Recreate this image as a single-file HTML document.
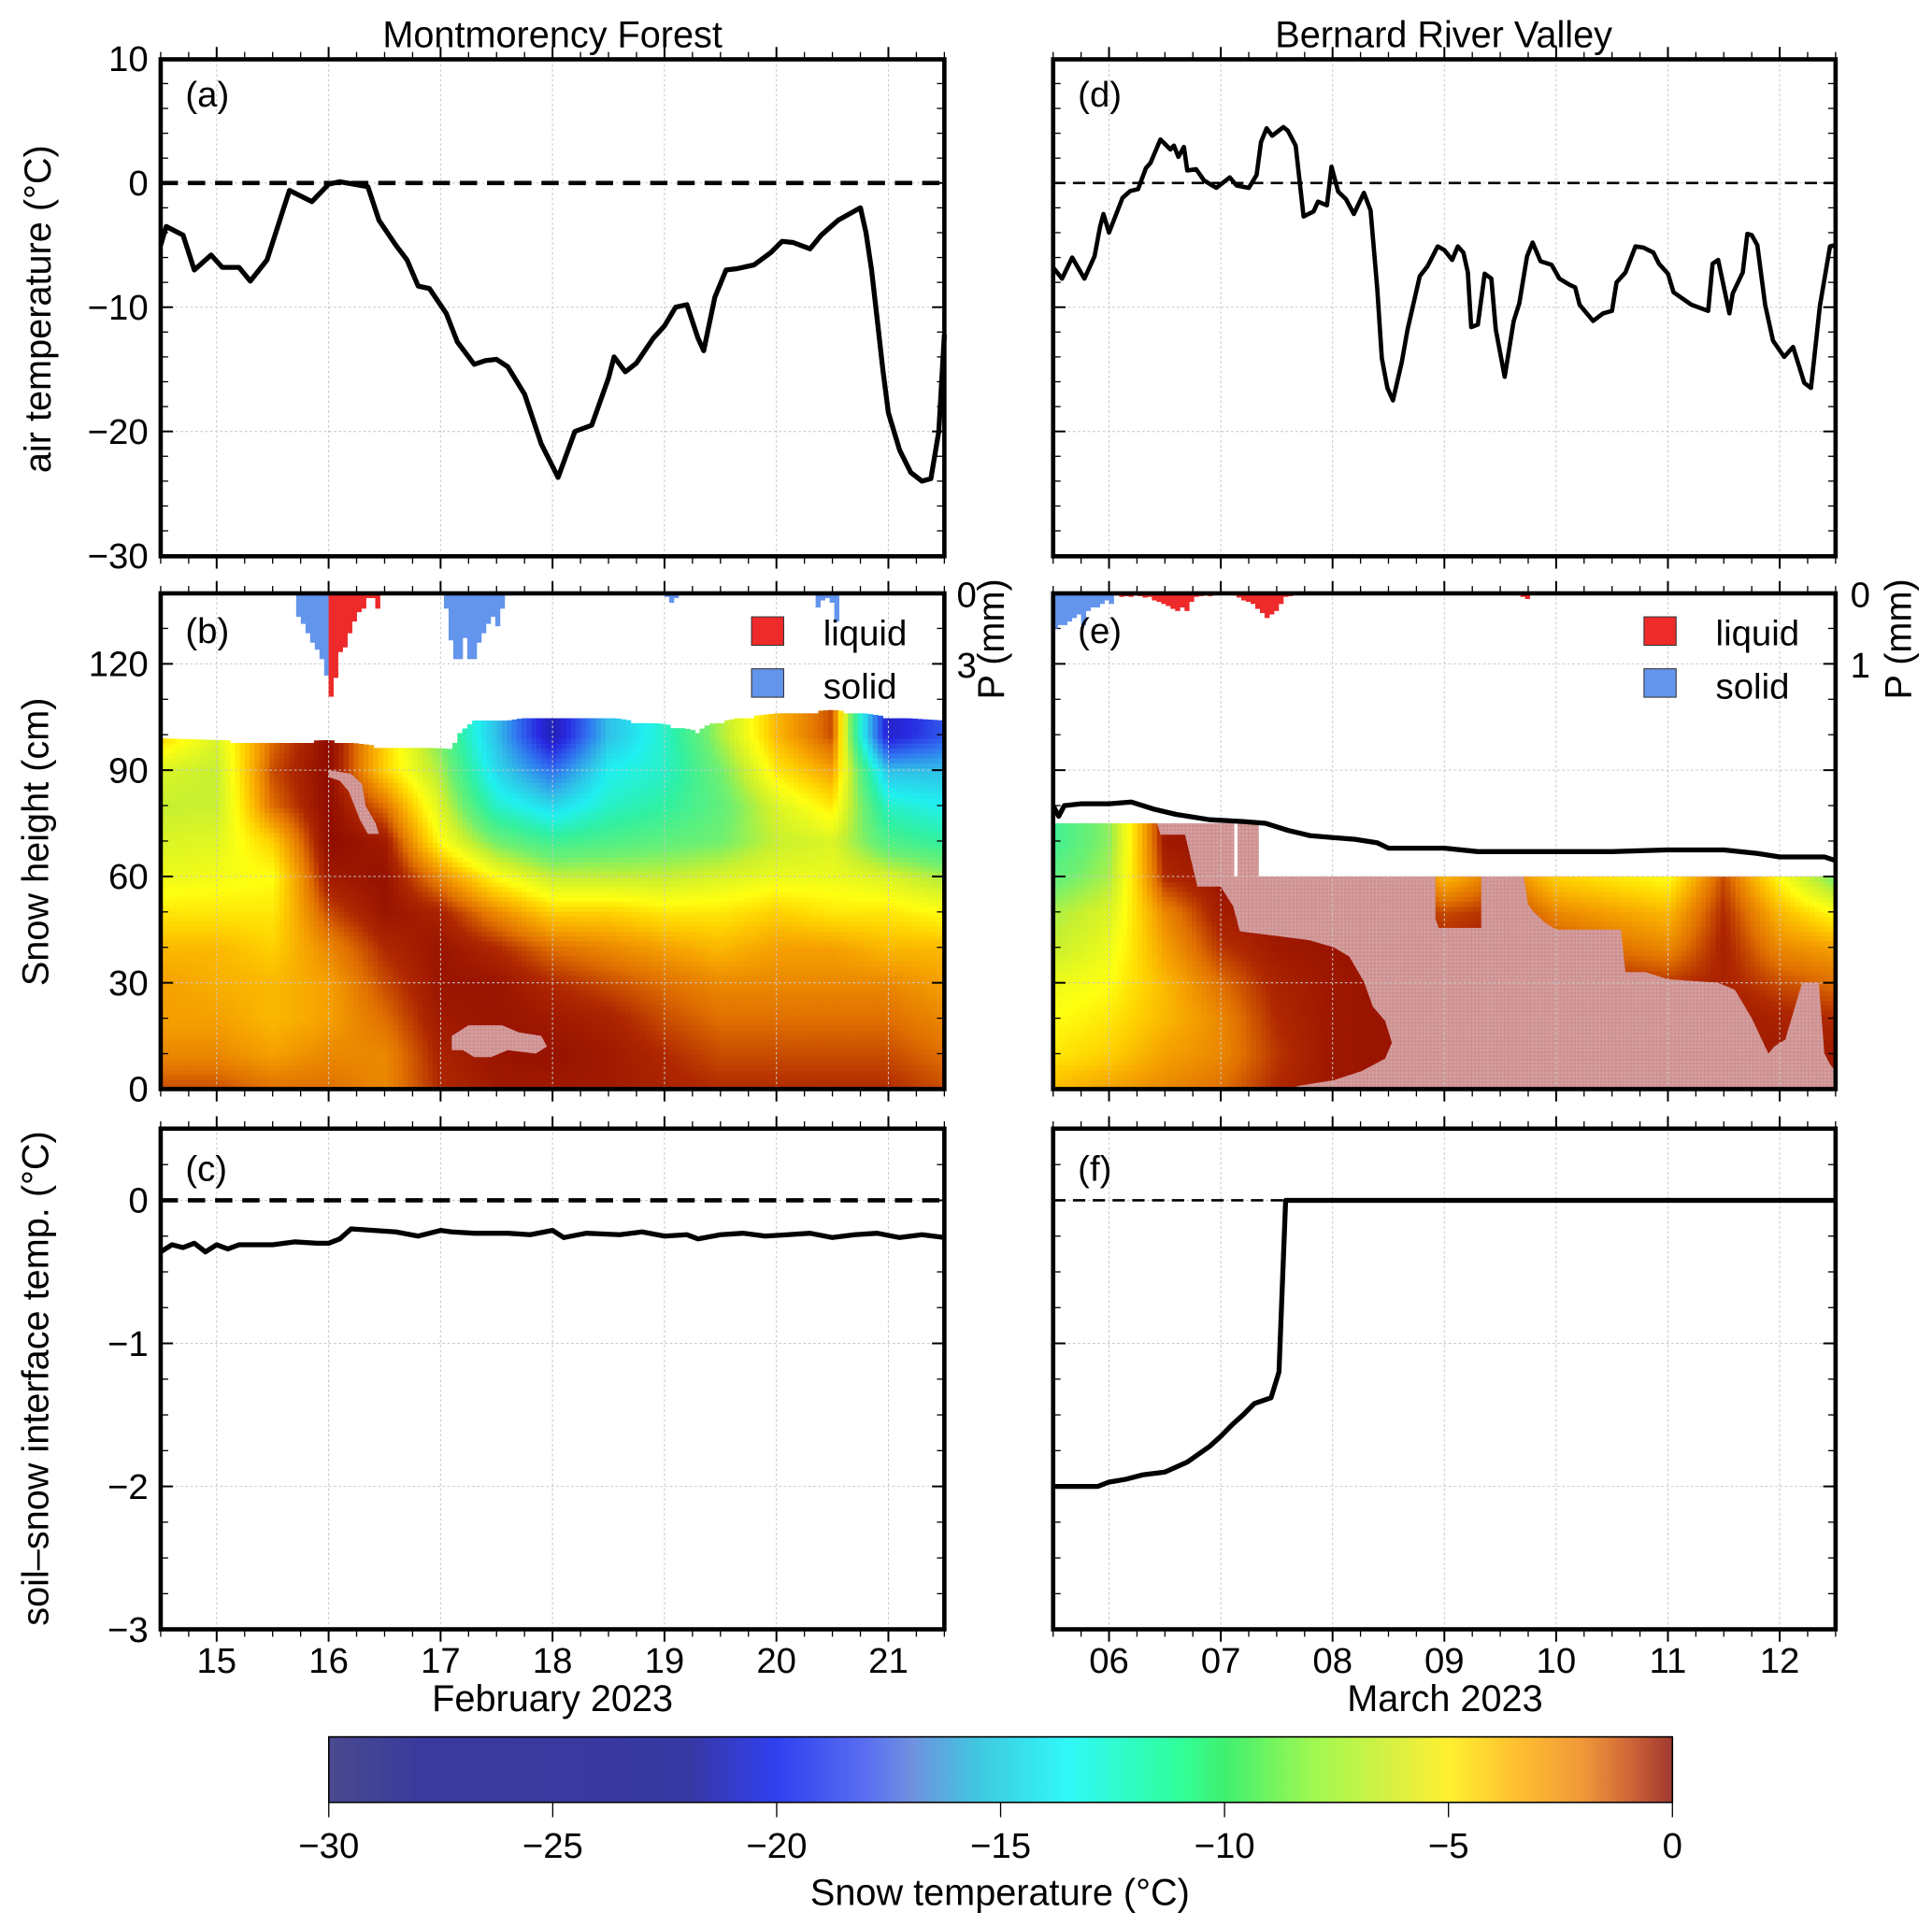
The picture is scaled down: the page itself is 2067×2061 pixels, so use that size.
<!DOCTYPE html>
<html><head><meta charset="utf-8"><style>
html,body{margin:0;padding:0;background:#fff}
svg{display:block;font-family:"Liberation Sans",Arial,sans-serif}
</style></head><body>
<svg id="fig" width="2067" height="2061" viewBox="0 0 1563 1558" preserveAspectRatio="none" xmlns="http://www.w3.org/2000/svg">
<defs>
<linearGradient id="cbar" x1="0" x2="1" y1="0" y2="0"></linearGradient>
<clipPath id="clipB"><rect x="130" y="480" width="634" height="401"/></clipPath>
<clipPath id="clipE"></clipPath>
<pattern id="wet" width="3" height="3" patternUnits="userSpaceOnUse"><rect width="3" height="3" fill="#cf9292"/><rect width="1.5" height="1.5" fill="#d9a5a5"/></pattern>
</defs>
<g id="root"></g>
</svg>
<script>
// ---------- DATA ----------
const airDaysL=[14.5,14.55,14.7,14.8,14.95,15.05,15.2,15.3,15.45,15.6,15.65,15.85,16.0,16.1,16.35,16.45,16.6,16.7,16.8,16.9,17.05,17.15,17.3,17.4,17.5,17.6,17.75,17.9,18.05,18.2,18.35,18.5,18.55,18.65,18.75,18.9,19.0,19.1,19.2,19.3,19.35,19.45,19.55,19.65,19.8,19.95,20.05,20.15,20.3,20.4,20.55,20.75,20.8,20.85,20.9,20.95,21.0,21.1,21.2,21.3,21.38,21.45,21.5];
const airTempL=[-5,-3.5,-4.2,-7,-5.8,-6.8,-6.8,-7.9,-6.2,-2,-0.6,-1.5,-0.1,0.1,-0.3,-3,-5,-6.2,-8.3,-8.5,-10.5,-12.8,-14.6,-14.3,-14.2,-14.8,-17,-21,-23.7,-20,-19.5,-15.7,-14,-15.2,-14.5,-12.5,-11.5,-10,-9.8,-12.5,-13.5,-9.2,-7,-6.9,-6.6,-5.6,-4.7,-4.8,-5.3,-4.2,-3,-2,-4,-7,-11,-15,-18.5,-21.5,-23.3,-24,-23.8,-20,-12.2];
const airDaysR=[5.5,5.58,5.67,5.78,5.87,5.92,5.95,6.0,6.12,6.19,6.26,6.33,6.37,6.46,6.55,6.58,6.62,6.67,6.7,6.78,6.85,6.96,7.08,7.14,7.25,7.32,7.36,7.41,7.46,7.56,7.6,7.67,7.74,7.83,7.87,7.95,7.99,8.05,8.12,8.19,8.28,8.34,8.4,8.44,8.49,8.54,8.62,8.67,8.78,8.85,8.94,9.0,9.07,9.12,9.17,9.21,9.24,9.3,9.36,9.42,9.46,9.54,9.62,9.67,9.74,9.79,9.86,9.96,10.03,10.12,10.17,10.21,10.33,10.42,10.5,10.54,10.62,10.71,10.78,10.87,10.92,11.0,11.05,11.21,11.36,11.4,11.45,11.55,11.58,11.67,11.71,11.75,11.8,11.87,11.94,12.04,12.12,12.22,12.28,12.36,12.45,12.5];
const airTempR=[-6.8,-7.7,-6.0,-7.7,-5.9,-3.5,-2.5,-4.0,-1.2,-0.65,-0.5,1.2,1.6,3.5,2.7,3.0,2.1,2.9,1.0,1.1,0.2,-0.4,0.45,-0.2,-0.4,0.65,3.3,4.4,3.8,4.5,4.2,3.0,-2.7,-2.3,-1.5,-1.8,1.3,-0.7,-1.3,-2.5,-0.8,-2.2,-8.5,-14.1,-16.5,-17.5,-14.4,-11.8,-7.5,-6.7,-5.1,-5.4,-6.2,-5.1,-5.6,-7.2,-11.6,-11.4,-7.3,-7.7,-11.8,-15.6,-11.1,-9.7,-5.9,-4.8,-6.3,-6.6,-7.7,-8.2,-8.4,-9.8,-11.1,-10.5,-10.3,-8.0,-7.2,-5.1,-5.2,-5.6,-6.5,-7.3,-8.8,-9.8,-10.3,-6.5,-6.2,-10.5,-8.9,-7.2,-4.1,-4.2,-5.0,-9.8,-12.7,-14.0,-13.2,-16.1,-16.5,-9.9,-5.1,-5.0];
const soilDaysL=[14.5,14.6,14.7,14.8,14.9,15.0,15.1,15.2,15.3,15.5,15.7,15.9,16.0,16.1,16.2,16.4,16.6,16.8,17.0,17.1,17.3,17.6,17.8,18.0,18.1,18.3,18.6,18.8,19.0,19.2,19.3,19.5,19.7,19.9,20.1,20.3,20.5,20.7,20.9,21.1,21.3,21.5];
const soilTempL=[-0.36,-0.31,-0.33,-0.3,-0.36,-0.31,-0.34,-0.31,-0.31,-0.31,-0.29,-0.3,-0.3,-0.27,-0.2,-0.21,-0.22,-0.25,-0.21,-0.22,-0.23,-0.23,-0.24,-0.21,-0.26,-0.23,-0.24,-0.22,-0.25,-0.24,-0.27,-0.24,-0.23,-0.25,-0.24,-0.23,-0.26,-0.24,-0.23,-0.26,-0.24,-0.26];
const soilDaysR=[5.5,5.9,6.0,6.15,6.3,6.5,6.7,6.9,7.0,7.1,7.2,7.3,7.45,7.52,7.58,8.0,10.0,12.5];
const soilTempR=[-2.0,-2.0,-1.97,-1.95,-1.92,-1.9,-1.83,-1.72,-1.65,-1.57,-1.5,-1.42,-1.38,-1.2,0,0,0,0];
const snowDaysR=[5.5,5.55,5.6,5.75,6.0,6.2,6.4,6.6,6.9,7.2,7.4,7.6,7.8,8.0,8.2,8.4,8.5,8.7,9.0,9.3,9.6,10.0,10.5,11.0,11.5,11.8,12.0,12.4,12.5];
const snowHeightR=[80,77,80,80.5,80.5,81,79,77.5,76,75.5,75,73,71.5,71,70.5,69.5,68,68,68,67,67,67,67,67.5,67.5,66.5,65.5,65.5,64.5];
const surfDaysL=[14.5,15.0,15.5,16.0,16.4,17.1,17.15,17.3,17.6,17.8,18.5,18.7,19.0,19.3,19.4,19.7,20.0,20.5,20.8,21.0,21.5];
const surfHeightL=[99,98.5,98,98.5,97,96,100,104,104,105,105,104,103,101,103,105,106,107,106,105,104];
// snow temperature grids (rows = heights, cols = days)
const gridDaysL=[14.5,15,15.5,16,16.5,17,17.5,18,18.5,19,19.5,20,20.5,21,21.5];
const gridHeightsL=[0,10,20,30,40,50,60,70,80,90,100];
const gridTempL=[
[-1.5,-2.5,-3,-3,-3.5,-4.5,-5.5,-6,-6.5,-6,-4],
[-1.5,-2.5,-3,-3.3,-3.5,-4.5,-5.3,-5.8,-6.5,-6.5,-6],
[-2,-3,-3.5,-3.5,-4,-4.5,-5,-4,-2,-1.5,-2],
[-2,-2.5,-3,-3,-2.5,-1.5,-0.5,0,0,0,0],
[-2.5,-2.5,-2,-1.5,-1,-0.3,-0.2,-0.5,-2,-4,-4],
[-1,-0.8,-0.5,-0.3,-0.3,-0.8,-2.5,-5,-6,-7,-8],
[-0.5,-0.3,-0.3,-0.3,-1,-2.5,-5,-8,-11,-13,-14],
[-0.5,-0.2,-0.5,-1,-2,-4,-6.5,-9.5,-13,-17,-22],
[-0.5,-0.5,-0.8,-1.5,-2.5,-4,-6.5,-9,-11,-12,-14],
[-0.8,-1,-1.5,-2,-3,-4.5,-6.5,-8.5,-10,-11,-11],
[-1,-1.5,-2,-2.5,-3.5,-4.5,-6,-8,-8.5,-8,-7],
[-1,-1.5,-2,-2.5,-3,-4,-5.5,-6.5,-6,-4.5,-3.5],
[-1,-1.5,-2,-2.5,-3,-4.5,-5.5,-6,-4.5,-3,-1.5],
[-1,-1.5,-2,-2.5,-3.5,-4.5,-6,-9,-11,-14,-21],
[-1.5,-2,-2.5,-3,-3.5,-5,-7,-10,-12,-14,-18]];
const wetPatchL1=[[16.0,90],[16.2,89],[16.3,86],[16.33,80],[16.42,75],[16.45,72],[16.35,72],[16.28,76],[16.18,84],[16.1,87],[16.0,88]];
const wetPatchL2=[[17.1,15],[17.25,18],[17.55,18],[17.7,16],[17.9,15],[17.95,12],[17.85,10],[17.6,11],[17.45,9],[17.3,9],[17.2,11],[17.1,11]];
const gridDaysR=[5.5,6,6.5,7,7.5,8,8.5,9,9.5,10,10.5,11,11.5,12,12.5];
const gridHeightsR=[0,10,20,30,40,50,60,70];
const gridTempR=[
[-3.5,-4.5,-5,-5.5,-6.5,-7,-8.5,-9.5],
[-3,-4,-4.5,-5,-5.5,-6,-7,-7.5],
[-2.5,-3,-3.5,-3.5,-3,-2.5,-1,-0.5],
[-2,-2.5,-2.5,-2,-1.2,-0.6,-0.3,-0.2],
[-1,-1.2,-1,-0.8,-0.5,-0.3,-0.2,-0.2],
[-0.4,-0.4,-0.4,-0.4,-0.3,-0.2,-0.2,-0.2],
[-0.3,-0.3,-0.3,-0.3,-0.3,-0.3,-0.3,-0.3],
[-0.5,-0.5,-0.5,-0.5,-0.8,-1.5,-3.5,-3.5],
[-0.5,-0.5,-0.5,-0.5,-0.7,-1,-2,-2],
[-0.5,-0.5,-0.5,-0.8,-1.5,-2.5,-4,-4],
[-0.5,-0.5,-0.5,-1,-2,-3,-4.5,-4.5],
[-0.5,-0.5,-0.5,-1.2,-2.5,-3.5,-5,-5],
[-0.5,-0.5,-0.5,-0.8,-0.8,-1,-1.5,-1.5],
[-0.5,-0.5,-0.8,-1.5,-2.5,-3.5,-5,-5],
[-0.5,-0.5,-1,-2,-3,-5,-8,-8]];
const dryPatchR1=[[5.5,75],[6.43,75],[6.46,71.8],[6.68,71.8],[6.79,57.1],[7.0,57.1],[7.11,51.6],[7.17,44.5],[7.55,43],[7.79,42],[8.01,40],[8.15,37.4],[8.28,30.3],[8.36,23.3],[8.47,19.2],[8.53,13.1],[8.47,8.6],[8.26,5.1],[8.01,2.5],[7.71,1],[7.6,0],[5.5,0]];
const dryPatchR2=[[8.92,60],[9.33,60],[9.33,45.5],[8.95,45.5],[8.92,48]];
const dryPatchR3=[[9.71,60],[12.5,60],[12.5,5],[12.45,7],[12.4,10],[12.35,30],[12.2,30],[12.05,14],[11.95,12],[11.9,10],[11.75,20],[11.6,28],[11.45,30],[11.0,31],[10.8,33],[10.62,33],[10.58,45],[10.0,45],[9.9,47],[9.8,50],[9.75,52]];
const solidL1Start=15.71, solidL1=[1.0,1.3,1.7,2.1,2.4,2.8,3.5];
const liquidL1Start=16.0, liquidL1=[4.4,3.6,2.5,2.3,1.7,1.2,0.8,0.65,0.2,0.2,0.65];
const solidL2Start=17.03, solidL2=[0.65,2.0,2.8,2.8,1.9,2.8,2.8,2.1,1.7,1.3,1.0,1.4,0.65];
const solidL3Start=19.0, solidL3=[0.15,0.4,0.2];
const solidL4Start=20.35, solidL4=[0.6,0.3,0.2,0.4,1.2];
const solidR1Start=5.5, solidR1=[0.5,0.45,0.45,0.4,0.35,0.3,0.45,0.25,0.2,0.2,0.15,0.1,0.15];
const liquidR1Start=6.05, liquidR1=[0.03,0.05,0.04,0.05,0.03,0.04,0.06,0.05,0.1,0.12,0.15,0.18,0.22,0.25,0.2,0.25,0.12,0.05,0.04,0.03,0.04];
const liquidR2Start=7.1, liquidR2=[0.03,0.06,0.1,0.12,0.15,0.22,0.28,0.35,0.3,0.25,0.15,0.05,0.04];
const liquidR3Start=9.68, liquidR3=[0.05,0.08];
const dayTicksL=[15,16,17,18,19,20,21];
const dayLabelsL=["15","16","17","18","19","20","21"];
const dayTicksR=[6,7,8,9,10,11,12];
const dayLabelsR=["06","07","08","09","10","11","12"];
const airTicks=[10,0,-10,-20,-30];
const snowTicks=[0,30,60,90,120];
const soilTicks=[0,-1,-2,-3];
const cbarTicks=[-30,-25,-20,-15,-10,-5,0];
const cbarStops=[[-30,"#4a4a90"],[-28,"#3a3a9c"],[-22,"#3838a2"],[-20,"#3040f0"],[-18,"#5a6ef0"],[-17,"#7090e0"],[-15.5,"#40c8e0"],[-13.5,"#30f8f8"],[-11,"#30ff9a"],[-10,"#40f070"],[-8,"#a0f850"],[-6,"#e0f040"],[-5,"#fff030"],[-3.5,"#ffc030"],[-2,"#f09838"],[-1,"#d06838"],[0,"#a03830"]];
const heatStops=[[-30,"#202060"],[-23,"#2020a0"],[-20,"#2828e0"],[-17,"#3070f0"],[-14,"#30c0e8"],[-12,"#20f0f0"],[-10,"#30f0a0"],[-8,"#70f070"],[-6.5,"#c8f030"],[-5,"#ffff10"],[-4,"#ffd000"],[-3,"#f5a000"],[-2,"#e07000"],[-1,"#b02800"],[0,"#900c00"]];

// ---------- AXES ----------
const L={x0:130,x1:764,d0:14.5,d1:21.5}, R={x0:852,x1:1485,d0:5.5,d1:12.5};
const xs=(P,d)=>P.x0+(d-P.d0)*(P.x1-P.x0)/(P.d1-P.d0);
const yA=t=>148-t*10.05;
const yB=h=>881-h*86/30;
const yPL=p=>480+p*19;
const yPR=p=>480+p*57;
const yC=t=>971-t*115.7;
const NS="http://www.w3.org/2000/svg";
const root=document.getElementById('root');
function el(tag,attrs,parent,text){const e=document.createElementNS(NS,tag);for(const k in attrs)e.setAttribute(k,attrs[k]);if(text!==undefined)e.textContent=text;(parent||root).appendChild(e);return e;}
function hex(c){return [parseInt(c.substr(1,2),16),parseInt(c.substr(3,2),16),parseInt(c.substr(5,2),16)];}
function cmap(t,stops){if(t<=stops[0][0])return stops[0][1];if(t>=stops[stops.length-1][0])return stops[stops.length-1][1];
 for(let i=0;i<stops.length-1;i++){const a=stops[i],b=stops[i+1];if(t>=a[0]&&t<=b[0]){const f=(t-a[0])/(b[0]-a[0]);const A=hex(a[1]),B=hex(b[1]);return "rgb("+A.map((v,k)=>Math.round(v+(B[k]-v)*f)).join(",")+")";}}}
function interp1(xa,ya,x){if(x<=xa[0])return ya[0];for(let i=0;i<xa.length-1;i++){if(x<=xa[i+1]){const f=(x-xa[i])/(xa[i+1]-xa[i]);return ya[i]+(ya[i+1]-ya[i])*f;}}return ya[ya.length-1];}
function bilin(days,hts,grid,d,h){let i=0;while(i<days.length-2&&d>days[i+1])i++;let j=0;while(j<hts.length-2&&h>hts[j+1])j++;
 const fx=Math.max(0,Math.min(1,(d-days[i])/(days[i+1]-days[i]))),fy=Math.max(0,Math.min(1,(h-hts[j])/(hts[j+1]-hts[j])));
 const a=grid[i][j],b=grid[i+1][j],c=grid[i][j+1],e=grid[i+1][j+1];return a*(1-fx)*(1-fy)+b*fx*(1-fy)+c*(1-fx)*fy+e*fx*fy;}

function frameAxes(P,y0,y1,name){
 (P===L?dayTicksL:dayTicksR).forEach(d=>{const x=xs(P,d);
  const g=el('line',{x1:x,x2:x,y1:y0,y2:y1,stroke:'#c8c8c8','stroke-width':0.8,'stroke-dasharray':'2 2'});
  
  
  el('line',{x1:x,x2:x,y1:y1,y2:y1-10,stroke:'#000','stroke-width':1.5});
  el('line',{x1:x,x2:x,y1:y0,y2:y0+10,stroke:'#000','stroke-width':1.5});});
 for(let d=P.d0;d<=P.d1;d+=0.25){const x=xs(P,d);el('line',{x1:x,x2:x,y1:y1,y2:y1-6,stroke:'#000','stroke-width':1});el('line',{x1:x,x2:x,y1:y0,y2:y0+6,stroke:'#000','stroke-width':1});}
}
function frame(P,y0,y1,name){const r=el('rect',{x:P.x0,y:y0,width:P.x1-P.x0,height:y1-y0,fill:'none',stroke:'#000','stroke-width':3.5});
 
 }
function hgrid(P,y,lbl,showLabel){el('line',{x1:P.x0,x2:P.x1,y1:y,y2:y,stroke:'#c8c8c8','stroke-width':0.8,'stroke-dasharray':'2 2'});
 el('line',{x1:P.x0,x2:P.x0+10,y1:y,y2:y,stroke:'#000','stroke-width':1.5});el('line',{x1:P.x1,x2:P.x1-10,y1:y,y2:y,stroke:'#000','stroke-width':1.5});
 if(showLabel){const t=el('text',{x:P.x0-10,y:y+10,'text-anchor':'end','font-size':29},root,lbl);
  
  }}
function minorY(P,v0,v1,step,fy){for(let v=v0;v<=v1+1e-9;v+=step){const y=fy(v);el('line',{x1:P.x0,x2:P.x0+6,y1:y,y2:y,stroke:'#000','stroke-width':1});el('line',{x1:P.x1,x2:P.x1-6,y1:y,y2:y,stroke:'#000','stroke-width':1});}}
function line(P,days,vals,fy,w,name){const pts=days.map((d,i)=>xs(P,d).toFixed(1)+","+fy(vals[i]).toFixed(1)).join(" ");
 const p=el('polyline',{points:pts,fill:'none',stroke:'#000','stroke-width':w,'stroke-linejoin':'round'});
 
 }
function zero(P,y,w,dash,name){const z=el('line',{x1:P.x0,x2:P.x1,y1:y,y2:y,stroke:'#000','stroke-width':w,'stroke-dasharray':dash});
 
 }
function bars(P,start,vals,fy,color,name){const w=(P.x1-P.x0)/(P.d1-P.d0)/24;vals.forEach((v,i)=>{const x=xs(P,start+i/24);
 const b=el('rect',{x:x,y:480,width:w+0.3,height:fy(v)-480,fill:color});
 
 });}
function polyPts(P,arr){return arr.map(p=>xs(P,p[0]).toFixed(1)+","+yB(p[1]).toFixed(1)).join(" ");}
function label(x,y,txt,size,name,anchor,rot){const a={x:x,y:y,'font-size':size,'text-anchor':anchor||'middle'};if(rot)a.transform="rotate(-90 "+x+" "+y+")";
 const t=el('text',a,root,txt);return t;}

// ---------- PANEL A / D ----------
[L,R].forEach((P,k)=>{
 frameAxes(P,450,48);
 airTicks.forEach(v=>hgrid(P,yA(v),String(v).replace('-','\u2212'),k===0));
 minorY(P,-30,10,2,yA);
});
zero(L,yA(0),3.5,'14 8','zero-line-a');
zero(R,yA(0),2,'10 6','zero-line-d');
line(L,airDaysL,airTempL,yA,4,'air-temperature-line-montmorency');
line(R,airDaysR,airTempR,yA,3.5,'air-temperature-line-bernard');
frame(L,48,450,'panel-a-frame');frame(R,48,450,'panel-d-frame');

// ---------- PANEL B ----------
(function(){const step=4;const g=el('g',{'clip-path':'url(#clipB)'});
 for(let x=L.x0;x<L.x1;x+=step){const d=L.d0+(x+step/2-L.x0)/(L.x1-L.x0)*(L.d1-L.d0);const top=interp1(surfDaysL,surfHeightL,d);
  for(let y=881-step;y>yB(top)-step;y-=step){const h=(881-(y+step/2))*30/86;if(h>top)continue;
   const t=bilin(gridDaysL,gridHeightsL,gridTempL,d,h);
   el('rect',{x:x,y:Math.max(y,yB(top)),width:step+0.6,height:step+0.6,fill:cmap(t,heatStops)},g);}}
 [wetPatchL1,wetPatchL2].forEach(pp=>{const w=el('polygon',{points:polyPts(L,pp),fill:'url(#wet)'},g);
  
  });
})();
// ---------- PANEL E ----------
(function(){
 const cp=document.getElementById('clipE');
 [dryPatchR1,dryPatchR2,dryPatchR3].forEach(pp=>el('polygon',{points:polyPts(R,pp)},cp));
 const wet=el('g',{});
 el('polygon',{points:polyPts(R,[[5.5,75],[7.12,75],[7.12,60],[7.15,60],[7.15,75],[7.34,75],[7.34,60],[12.5,60],[12.5,0],[5.5,0]]),fill:'url(#wet)'},wet);
 const g=el('g',{'clip-path':'url(#clipE)'});
 const step=4;
 for(let x=R.x0;x<R.x1;x+=step){const d=R.d0+(x+step/2-R.x0)/(R.x1-R.x0)*(R.d1-R.d0);
  for(let y=881-step;y>yB(76)-step;y-=step){const h=(881-(y+step/2))*30/86;
   const t=bilin(gridDaysR,gridHeightsR,gridTempR,d,h);
   el('rect',{x:x,y:y,width:step+0.6,height:step+0.6,fill:cmap(t,heatStops)},g);}}
})();
[L,R].forEach((P,k)=>{
 frameAxes(P,881,480);
 snowTicks.forEach(v=>hgrid(P,yB(v),String(v),k===0));
 minorY(P,0,130,10,yB);
});
line(R,snowDaysR,snowHeightR,yB,4,'snow-height-line-bernard');
bars(L,solidL1Start,solidL1,yPL,'#6495ed','precip-solid-bar');
bars(L,liquidL1Start,liquidL1,yPL,'#ee2a2a','precip-liquid-bar');
bars(L,solidL2Start,solidL2,yPL,'#6495ed','precip-solid-bar');
bars(L,solidL3Start,solidL3,yPL,'#6495ed','precip-solid-bar');
bars(L,solidL4Start,solidL4,yPL,'#6495ed','precip-solid-bar');
bars(R,solidR1Start,solidR1,yPR,'#6495ed','precip-solid-bar');
bars(R,liquidR1Start,liquidR1,yPR,'#ee2a2a','precip-liquid-bar');
bars(R,liquidR2Start,liquidR2,yPR,'#ee2a2a','precip-liquid-bar');
bars(R,liquidR3Start,liquidR3,yPR,'#ee2a2a','precip-liquid-bar');
frame(L,480,881,'panel-b-frame');frame(R,480,881,'panel-e-frame');

// ---------- PANEL C / F ----------
[L,R].forEach((P,k)=>{
 frameAxes(P,1318,913);
 soilTicks.forEach(v=>hgrid(P,yC(v),String(v).replace('-','\u2212'),k===0));
 minorY(P,-3,0.5,0.25,yC);
});
zero(L,yC(0),3.5,'14 8','zero-line-c');
zero(R,yC(0),2,'10 6','zero-line-f');
line(L,soilDaysL,soilTempL,yC,4,'soil-snow-temperature-line-montmorency');
line(R,soilDaysR,soilTempR,yC,4,'soil-snow-temperature-line-bernard');
frame(L,913,1318,'panel-c-frame');frame(R,913,1318,'panel-f-frame');

dayTicksL.forEach((d,i)=>label(xs(L,d),1353,dayLabelsL[i],29,'x-tick-label'));
dayTicksR.forEach((d,i)=>label(xs(R,d),1353,dayLabelsR[i],29,'x-tick-label'));
label(447,1384,'February 2023',30,'x-axis-title-february');
label(1169,1384,'March 2023',30,'x-axis-title-march');
label(447,38,'Montmorency Forest',30,'column-title-montmorency');
label(1168,38,'Bernard River Valley',30,'column-title-bernard');
label(41,250,'air temperature (\u00b0C)',30,'y-axis-title-air-temperature','middle',true);
label(39,681,'Snow height (cm)',30,'y-axis-title-snow-height','middle',true);
label(39,1115,'soil\u2013snow interface temp. (\u00b0C)',30,'y-axis-title-soil-temperature','middle',true);
label(812,517,'P (mm)',30,'y-axis-title-precip-left','middle',true);
label(1546,517,'P (mm)',30,'y-axis-title-precip-right','middle',true);
label(782,491,'0',29,'precip-tick-label');label(782,548,'3',29,'precip-tick-label');
label(1505,491,'0',29,'precip-tick-label');label(1505,548,'1',29,'precip-tick-label');
[['(a)',86],['(b)',520],['(c)',955]].forEach(a=>label(150,a[1],a[0],29,'panel-label','start'));
[['(d)',86],['(e)',520],['(f)',955]].forEach(a=>label(872,a[1],a[0],29,'panel-label','start'));
[[608,666],[1330,1388]].forEach(p=>{
 const r1=el('rect',{x:p[0],y:499,width:26,height:23,fill:'#ee2a2a',stroke:'#333','stroke-width':0.8});
 
 label(p[1],522,'liquid',29,'legend-label-liquid','start');
 const r2=el('rect',{x:p[0],y:541,width:26,height:23,fill:'#6495ed',stroke:'#333','stroke-width':0.8});
 
 label(p[1],565,'solid',29,'legend-label-solid','start');
});
(function(){const gr=document.getElementById('cbar');cbarStops.forEach(s=>el('stop',{offset:((s[0]+30)/30*100)+'%','stop-color':s[1]},gr));
 const cb=el('rect',{x:266,y:1405,width:1087,height:53,fill:'url(#cbar)',stroke:'#000','stroke-width':1.2});
 
 cbarTicks.forEach(v=>{const x=266+(v+30)/30*1087;el('line',{x1:x,x2:x,y1:1458,y2:1470,stroke:'#000','stroke-width':1});
  label(x,1503,String(v).replace('-','\u2212'),29,'colorbar-tick-label');});
 label(809,1541,'Snow temperature (\u00b0C)',30,'colorbar-title');
})();
</script>
</body></html>
